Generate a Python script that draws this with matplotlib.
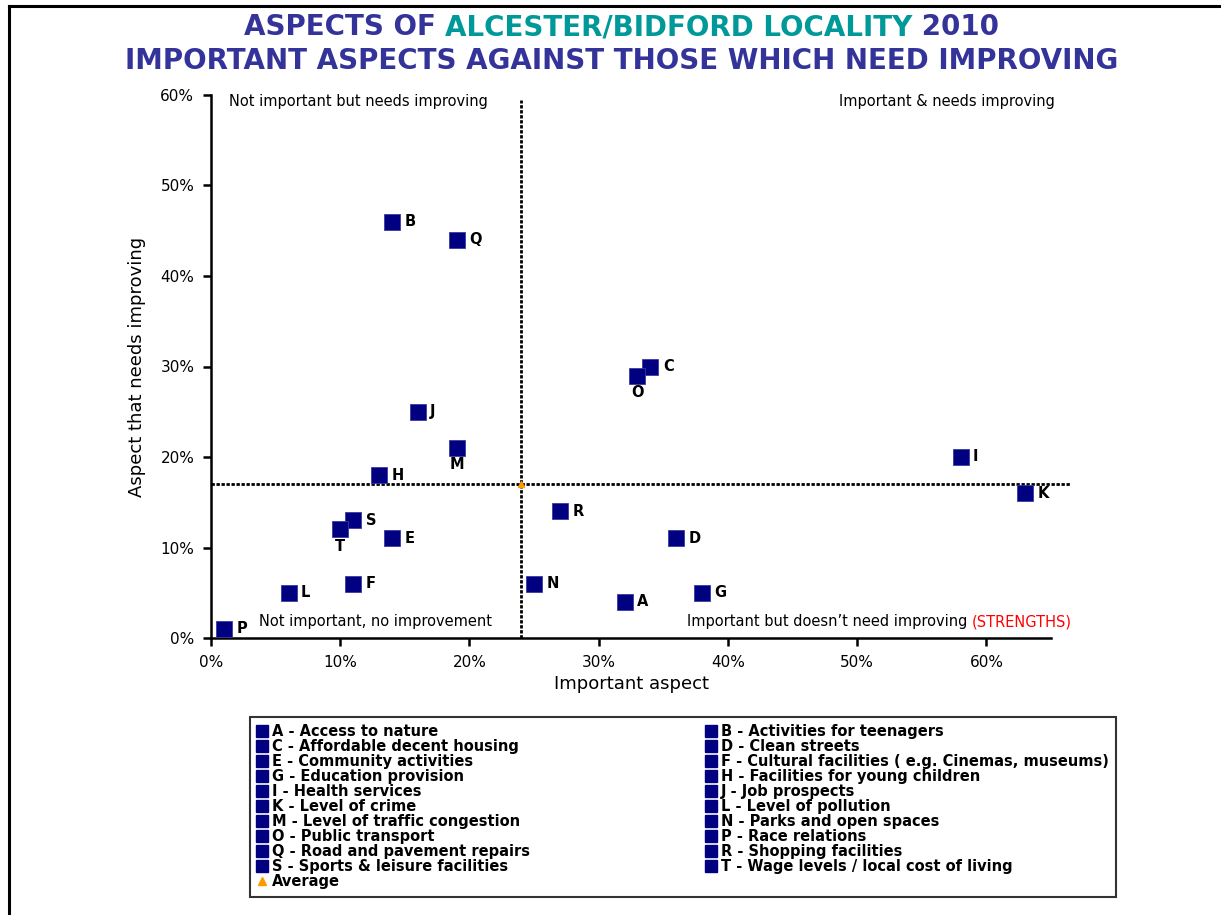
import matplotlib
matplotlib.use('Agg')
import matplotlib.pyplot as plt
from matplotlib.lines import Line2D
from matplotlib.ticker import PercentFormatter
from matplotlib.offsetbox import TextArea, HPacker, AnchoredOffsetbox

# Дані: літера, назва, важливість (x), потреба покращення (y)
codes = ['A', 'B', 'C', 'D', 'E', 'F', 'G', 'H', 'I', 'J',
         'K', 'L', 'M', 'N', 'O', 'P', 'Q', 'R', 'S', 'T']
names = ['Access to nature', 'Activities for teenagers', 'Affordable decent housing',
         'Clean streets', 'Community activities',
         'Cultural facilities ( e.g. Cinemas, museums)', 'Education provision',
         'Facilities for young children', 'Health services', 'Job prospects',
         'Level of crime', 'Level of pollution', 'Level of traffic congestion',
         'Parks and open spaces', 'Public transport', 'Race relations',
         'Road and pavement repairs', 'Shopping facilities',
         'Sports & leisure facilities', 'Wage levels / local cost of living']
important = [32, 14, 34, 36, 14, 11, 38, 13, 58, 16,
             63, 6, 19, 25, 33, 1, 19, 27, 11, 10]
improve = [4, 46, 30, 11, 11, 6, 5, 18, 20, 25,
           16, 5, 21, 6, 29, 1, 44, 14, 13, 12]
avg_x = 24
avg_y = 17

navy = '#000080'
title_blue = '#333399'
teal = '#009999'

fig = plt.figure(figsize=(12.21, 9.15), dpi=100)
ax = fig.add_axes([211/1221, 1-638/915, 840/1221, 543/915])

# Точки
for c, x, y in zip(codes, important, improve):
    ax.plot(x, y, marker='s', markersize=12, color=navy,
            markeredgecolor='#3a3aa0', markeredgewidth=0.6, linestyle='none',
            clip_on=False, zorder=5)
    if c in ('O', 'M', 'T'):
        ax.annotate(c, (x, y), xytext=(0, -12), textcoords='offset points',
                    ha='center', va='center', fontsize=10.5, fontweight='bold')
    else:
        ax.annotate(c, (x, y), xytext=(9, 0), textcoords='offset points',
                    ha='left', va='center', fontsize=10.5, fontweight='bold')

# Середні лінії
ax.axhline(avg_y, xmin=0, xmax=1.023, color='black', lw=2,
           linestyle=(0, (1.2, 0.6)), clip_on=False, zorder=3)
ax.axvline(avg_x, ymin=0, ymax=0.99, color='black', lw=2,
           linestyle=(0, (1.2, 0.6)), clip_on=False, zorder=3)
ax.plot(avg_x, avg_y, marker='^', markersize=5, color='#FF9900',
        linestyle='none', zorder=4)

ax.set_xlim(0, 65)
ax.set_ylim(0, 60)
ax.set_xticks(range(0, 61, 10))
ax.set_yticks(range(0, 61, 10))
ax.xaxis.set_major_formatter(PercentFormatter(decimals=0))
ax.yaxis.set_major_formatter(PercentFormatter(decimals=0))
ax.spines['top'].set_visible(False)
ax.spines['right'].set_visible(False)
ax.spines['left'].set_linewidth(1.8)
ax.spines['bottom'].set_linewidth(1.8)
ax.tick_params(direction='out', length=6, width=1.8, labelsize=11, pad=6)
ax.set_xlabel('Important aspect', fontsize=13, labelpad=4)
ax.set_ylabel('Aspect that needs improving', fontsize=13, labelpad=10)

# Підписи квадрантів
ax.text(1.4, 59.3, 'Not important but needs improving', fontsize=10.5, va='center')
ax.text(65.3, 59.3, 'Important & needs improving', fontsize=10.5, va='center', ha='right')
ax.text(3.7, 1.8, 'Not important, no improvement', fontsize=10.5, va='center')
strength = ax.text(36.8, 1.8, "Important but doesn\u2019t need improving ", fontsize=10.5, va='center')
ax.annotate('(STRENGTHS)', xy=(1, 0.5), xycoords=strength, va='center',
            fontsize=10.5, color='red')

# Заголовок
parts1 = [('ASPECTS OF ', title_blue), ('ALCESTER/BIDFORD LOCALITY', teal),
          (' 2010', title_blue)]
areas = [TextArea(s, textprops=dict(color=c, fontsize=20, fontweight='bold'))
         for s, c in parts1]
box = HPacker(children=areas, align='baseline', pad=0, sep=0)
anch = AnchoredOffsetbox(loc='center', child=box, pad=0, borderpad=0, frameon=False,
                         bbox_to_anchor=(0.509, 1-27/915), bbox_transform=fig.transFigure)
fig.add_artist(anch)
fig.text(0.509, 1-61/915, 'IMPORTANT ASPECTS AGAINST THOSE WHICH NEED IMPROVING',
         ha='center', va='center', fontsize=20, fontweight='bold', color=title_blue)

# Рамка рисунка
fig.add_artist(Line2D([9/1221, 9/1221], [0, 1-6/915], color='black', lw=2.2,
                      transform=fig.transFigure))
fig.add_artist(Line2D([9/1221, 1], [1-6/915, 1-6/915], color='black', lw=2.2,
                      transform=fig.transFigure))

# Легенда: перша колонка A,C,E..., друга B,D,F...
handles = []
labels = []
for i in range(0, 20, 2):
    handles.append(Line2D([], [], marker='s', color=navy, markersize=8, linestyle='none'))
    labels.append(f'{codes[i]} - {names[i]}')
handles.append(Line2D([], [], marker='^', color='#FF9900', markersize=6, linestyle='none'))
labels.append('Average')
for i in range(1, 20, 2):
    handles.append(Line2D([], [], marker='s', color=navy, markersize=8, linestyle='none'))
    labels.append(f'{codes[i]} - {names[i]}')

leg = fig.legend(handles, labels, ncol=2, loc='upper left',
                 bbox_to_anchor=(250/1221, 1-717/915), bbox_transform=fig.transFigure,
                 prop=dict(size=10.5, weight='bold'), frameon=True, fancybox=False,
                 edgecolor='black', handlelength=0.6, handletextpad=0.4,
                 labelspacing=0.0, columnspacing=12.1, borderpad=0.5,
                 borderaxespad=0)
leg.get_frame().set_linewidth(1.5)

plt.savefig('out.png', dpi=100)
